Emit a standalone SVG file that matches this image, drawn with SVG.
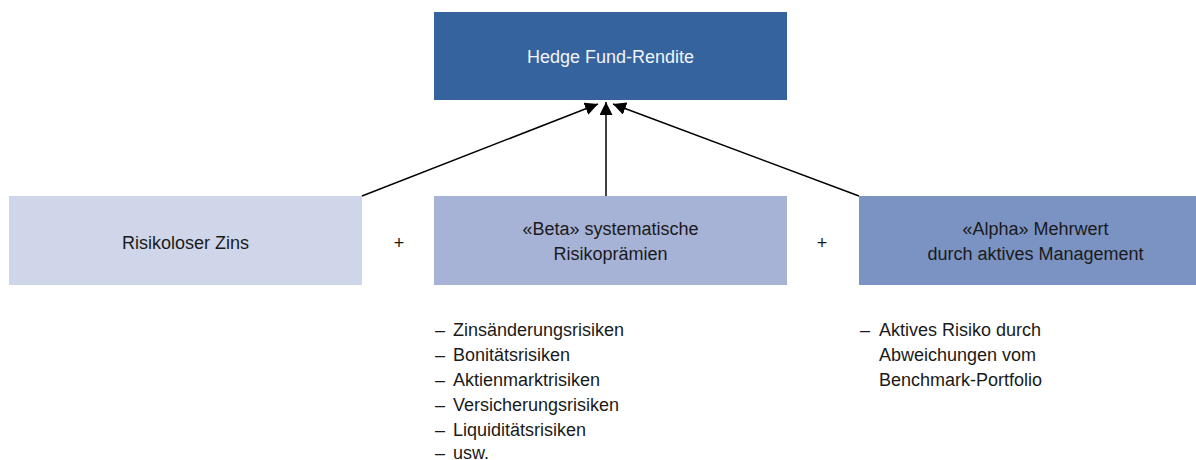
<svg xmlns="http://www.w3.org/2000/svg" width="1196" height="460" viewBox="0 0 1196 460">
<style>
text{font-family:"Liberation Sans",Arial,sans-serif;font-size:18px;fill:#1a1a1a}
.c{text-anchor:middle}
.w{fill:#f2f4fa}
.ln{stroke:#000;stroke-width:1.5;fill:none;marker-end:url(#ah)}
</style>
<defs>
<marker id="ah" viewBox="0 0 13 13" refX="13" refY="6.5" markerWidth="13" markerHeight="13" markerUnits="userSpaceOnUse" orient="auto">
<path d="M0,0 L13,6.5 L0,13 Z" fill="#000"/>
</marker>
</defs>
<rect width="1196" height="460" fill="#fff"/>
<g id="connectors">
<line class="ln" x1="362" y1="196" x2="598" y2="104"/>
<line class="ln" x1="606" y1="196" x2="606" y2="102"/>
<line class="ln" x1="859" y1="196" x2="613" y2="104"/>
</g>
<g id="top">
<rect x="434" y="12" width="353" height="88" fill="#34639e"/>
<text class="c w" x="610.5" y="63">Hedge Fund-Rendite</text>
</g>
<g id="risikolos">
<rect x="9" y="196" width="353" height="89" fill="#d0d6e9"/>
<text class="c" x="185.5" y="249">Risikoloser Zins</text>
</g>
<g id="beta">
<rect x="434" y="196" width="353" height="89" fill="#a6b3d6"/>
<text class="c" x="610.5" y="235">«Beta» systematische</text>
<text class="c" x="610.5" y="260">Risikoprämien</text>
</g>
<g id="alpha">
<rect x="859" y="196" width="353" height="89" fill="#7b93c3"/>
<text class="c" x="1035.5" y="235">«Alpha» Mehrwert</text>
<text class="c" x="1035.5" y="260">durch aktives Management</text>
</g>
<g id="plus">
<text class="c" x="399" y="249">+</text>
<text class="c" x="822" y="249">+</text>
</g>
<g id="beta-list">
<text x="435" y="336">–</text><text x="453" y="336">Zinsänderungsrisiken</text>
<text x="435" y="361">–</text><text x="453" y="361">Bonitätsrisiken</text>
<text x="435" y="386">–</text><text x="453" y="386">Aktienmarktrisiken</text>
<text x="435" y="411">–</text><text x="453" y="411">Versicherungsrisiken</text>
<text x="435" y="436">–</text><text x="453" y="436">Liquiditätsrisiken</text>
<text x="435" y="459">–</text><text x="453" y="459">usw.</text>
</g>
<g id="alpha-list">
<text x="860" y="336">–</text><text x="879" y="336">Aktives Risiko durch</text>
<text x="879" y="361">Abweichungen vom</text>
<text x="879" y="386">Benchmark-Portfolio</text>
</g>
</svg>
